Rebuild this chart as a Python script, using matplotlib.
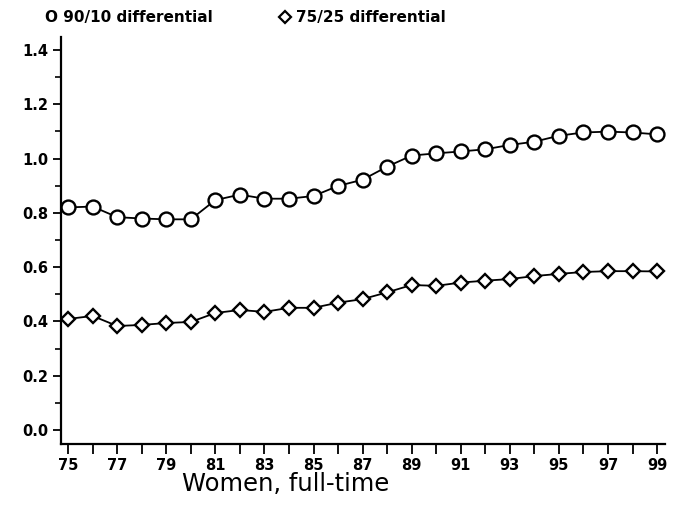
import matplotlib
matplotlib.use("Agg")
import matplotlib.pyplot as plt
from matplotlib.lines import Line2D
from matplotlib.ticker import MultipleLocator

plt.rcParams['font.family'] = ['DejaVu Sans']

# years 1975..1999
years = list(range(75, 100))
d9010 = [0.820, 0.823, 0.784, 0.779, 0.776, 0.776, 0.847, 0.867, 0.852, 0.852,
         0.862, 0.899, 0.922, 0.970, 1.011, 1.019, 1.026, 1.034, 1.050, 1.062,
         1.084, 1.096, 1.099, 1.096, 1.089]
d7525 = [0.409, 0.420, 0.383, 0.387, 0.394, 0.398, 0.431, 0.442, 0.435, 0.450,
         0.450, 0.469, 0.482, 0.507, 0.534, 0.531, 0.543, 0.550, 0.556, 0.567,
         0.575, 0.582, 0.585, 0.585, 0.584]
yticks = [0.0, 0.2, 0.4, 0.6, 0.8, 1.0, 1.2, 1.4]

fig = plt.figure(figsize=(6.75, 5.2), dpi=100)
ax = fig.add_axes([0.0904, 0.146, 0.895, 0.783])

ax.plot(years, d9010, '-o', color='black', lw=1.3, ms=10, mfc='white', mew=1.7)
ax.plot(years, d7525, '-D', color='black', lw=1.3, ms=7, mfc='white', mew=1.7)

ax.set_xlim(74.71, 99.33)
ax.set_ylim(-0.052, 1.448)
ax.set_xticks(years)
ax.set_xticklabels([str(y) if y % 2 == 1 else '' for y in years])
ax.set_yticks(yticks)
ax.set_yticklabels(['%.1f' % v for v in yticks])
ax.yaxis.set_minor_locator(MultipleLocator(0.1))

for s in ['top', 'right']:
    ax.spines[s].set_visible(False)
for s in ['left', 'bottom']:
    ax.spines[s].set_linewidth(1.6)

ax.tick_params(axis='both', direction='out', width=1.3, labelsize=10.5)
ax.tick_params(axis='x', length=7, pad=3)
ax.tick_params(axis='y', length=6, pad=3)
ax.tick_params(axis='y', which='minor', length=4, width=1.2)
for lab in ax.get_xticklabels() + ax.get_yticklabels():
    lab.set_fontweight('bold')

fig.text(0.423, 0.07, 'Women, full-time', fontsize=17.5, ha='center', va='center')

# legend drawn as header text, like the original
fig.text(0.066, 0.967, 'O 90/10 differential', fontsize=11, fontweight='bold',
         ha='left', va='center')
fig.add_artist(Line2D([0.4225], [0.967], marker='D', ms=6, mfc='white', mec='black',
                      mew=1.6, transform=fig.transFigure))
fig.text(0.438, 0.967, '75/25 differential', fontsize=11, fontweight='bold',
         ha='left', va='center')

fig.savefig('out.png', dpi=100)
